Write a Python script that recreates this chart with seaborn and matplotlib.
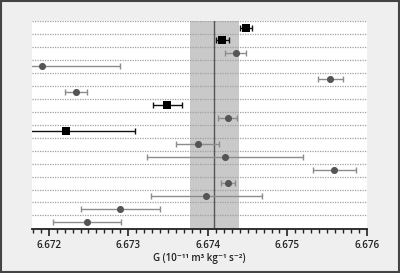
import matplotlib
matplotlib.use("Agg")
import matplotlib.pyplot as plt
import seaborn as sns
import pandas as pd
import numpy as np
from matplotlib.ticker import MultipleLocator, FixedLocator

# Measurements of G, top to bottom
g_values = [6.674484, 6.674184, 6.67435, 6.67191, 6.67554, 6.67234, 6.67349, 6.67425,
            6.67222, 6.67387, 6.67422, 6.67559, 6.674255, 6.67398, 6.6729, 6.67248]
g_errors = [0.000077, 0.000078, 0.00013, 0.00099, 0.00016, 0.00014, 0.00018, 0.00012,
            0.00087, 0.00027, 0.00098, 0.00027, 0.000092, 0.00070, 0.0005, 0.00043]
methods = ["square", "square", "circle", "circle", "circle", "circle", "square", "circle",
           "square", "circle", "circle", "circle", "circle", "circle", "circle", "circle"]
codata_value = 6.67408
codata_error = 0.00031
tick_values = [6.672, 6.673, 6.674, 6.675, 6.676]
tick_labels = ["6.672", "6.673", "6.674", "6.675", "6.676"]

df = pd.DataFrame({"G": g_values, "err": g_errors, "method": methods,
                   "row": np.arange(len(g_values))})

sns.set_style("white")
plt.rcParams['font.family'] = ['Open Sans', 'DejaVu Sans']

fig = plt.figure(figsize=(4.0, 2.73), dpi=100, facecolor="#efefef")
ax = fig.add_axes([0.08, 0.161, 0.8375, 0.762])
ax.set_facecolor("white")

# CODATA band and line
ax.axvspan(codata_value - codata_error, codata_value + codata_error,
           color="#c9c9c9", zorder=1, lw=0)
ax.axvline(codata_value, color="#555555", lw=1.0, zorder=2)

# dotted separators above each row
for r in df["row"]:
    ax.axhline(r - 0.5, color="#a0a0a0", lw=0.9, ls=(0, (1, 1)), zorder=1.5)

# error bars
for m, ecol in [("circle", "#8c8c8c"), ("square", "#111111")]:
    sub = df[df["method"] == m]
    ax.errorbar(sub["G"], sub["row"], xerr=sub["err"], fmt="none",
                ecolor=ecol, elinewidth=1.0, capsize=2.0, capthick=1.0, zorder=3)

sns.scatterplot(data=df[df["method"] == "circle"], x="G", y="row", marker="o",
                s=26, color="#555555", edgecolor="#555555", linewidth=0, ax=ax, zorder=4)
sns.scatterplot(data=df[df["method"] == "square"], x="G", y="row", marker="s",
                s=34, color="#000000", edgecolor="#000000", linewidth=0, ax=ax, zorder=4)

ax.set_xlim(6.67179, 6.676)
ax.set_ylim(15.55, -0.5)
ax.set_yticks([])
ax.set_ylabel("")
ax.xaxis.set_major_locator(FixedLocator(tick_values))
ax.set_xticklabels(tick_labels, fontsize=7, color="#222222", fontweight="semibold")
ax.xaxis.set_minor_locator(MultipleLocator(0.0001))
ax.tick_params(axis="x", which="major", direction="out", length=5, width=1.2,
               color="#222222", bottom=True, pad=3)
ax.tick_params(axis="x", which="minor", direction="out", length=3, width=1.0,
               color="#222222", bottom=True)
ax.set_xlabel("G (10⁻¹¹ m³ kg⁻¹ s⁻²)", fontsize=7, color="#222222",
              fontweight="semibold", labelpad=1)

for s in ["top", "left", "right"]:
    ax.spines[s].set_visible(False)
ax.spines["bottom"].set_color("#222222")
ax.spines["bottom"].set_linewidth(1.3)

# outer frame
fig.patches.append(plt.Rectangle((0.002, 0.003), 0.995, 0.993, transform=fig.transFigure,
                                 fill=False, edgecolor="#444444", lw=1.5))

fig.savefig("out.png", dpi=100, facecolor=fig.get_facecolor())
